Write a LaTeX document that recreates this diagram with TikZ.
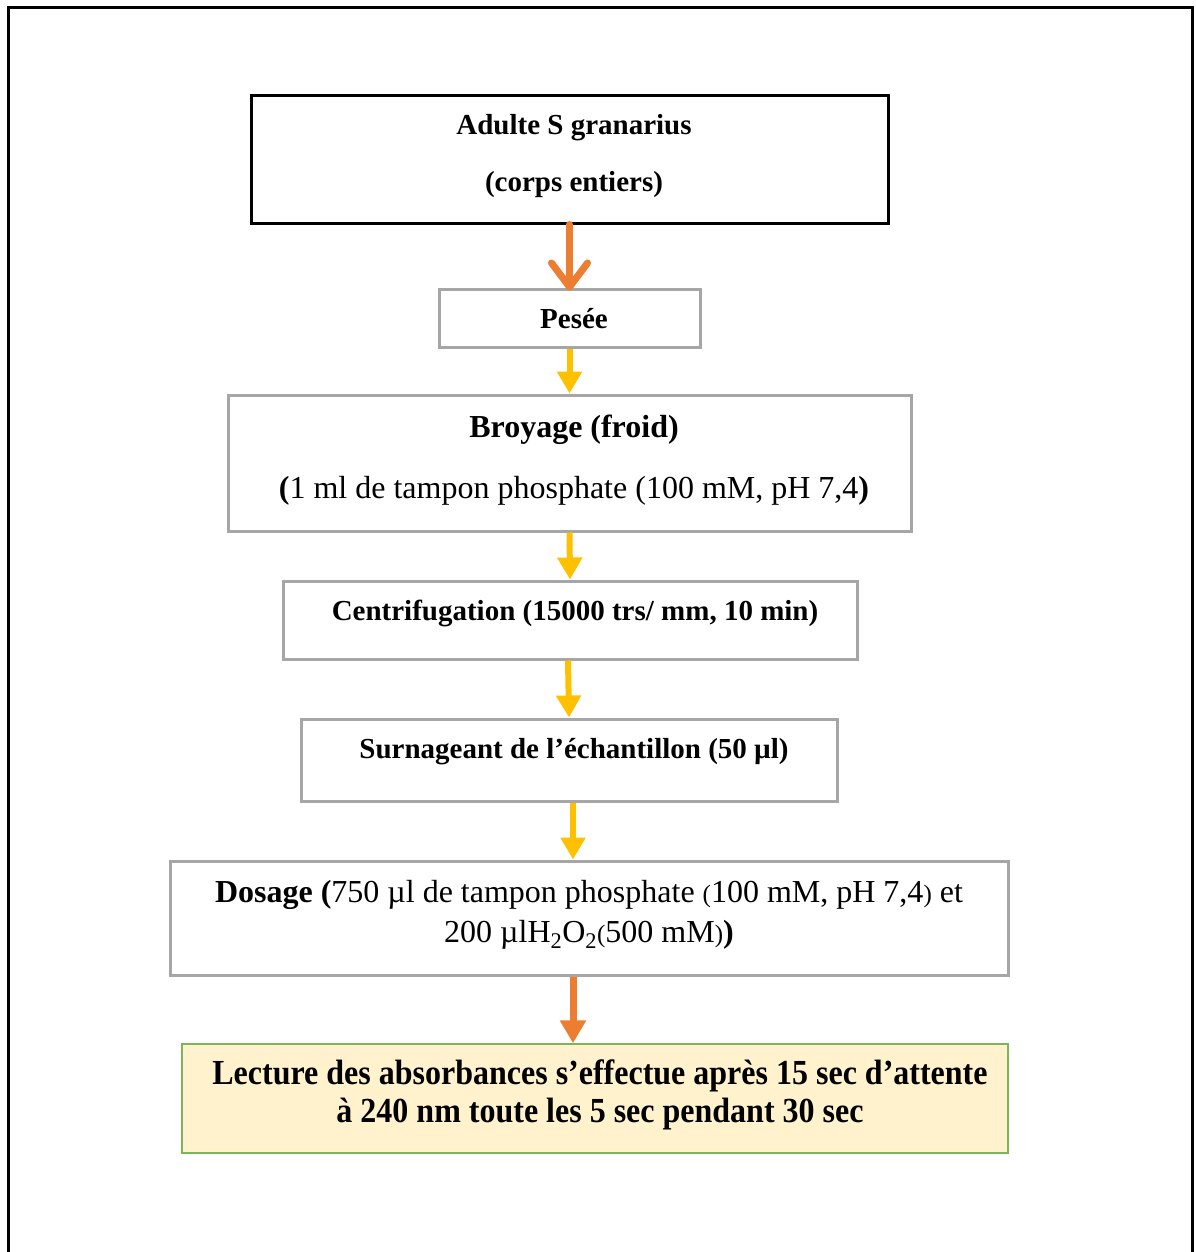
\documentclass[tikz,border=0pt]{standalone}
\usepackage{fontspec}
\setmainfont{Liberation Serif}
\usetikzlibrary{arrows.meta}
\definecolor{orarrow}{HTML}{ED7D31}
\definecolor{yelarrow}{HTML}{FFC000}
\definecolor{boxgray}{HTML}{A6A6A6}
\definecolor{lecfill}{HTML}{FFF2CC}
\definecolor{lecborder}{HTML}{7DB55A}
\tikzset{
  stepbox/.style={draw=boxgray, line width=3pt, rectangle, inner sep=0pt},
  blackbox/.style={draw=black, line width=3pt, rectangle, inner sep=0pt},
  lecbox/.style={draw=lecborder, fill=lecfill, line width=1.5pt, rectangle, inner sep=0pt},
  txtb/.style={anchor=base, inner sep=0pt, font=\fontsize{29}{34}\selectfont\bfseries},
  txtbig/.style={anchor=base, inner sep=0pt, font=\fontsize{32}{38}\selectfont},
  txtr/.style={anchor=base, inner sep=0pt, font=\fontsize{32}{38}\selectfont},
  yarrow/.style={draw=yelarrow, line width=6pt, -{Triangle[width=24pt,length=22pt]}, yelarrow},
  oarrow/.style={draw=orarrow, line width=7pt, -{Triangle[width=25pt,length=23pt]}, orarrow},
  obarb/.style={draw=orarrow, line width=7pt, line cap=round, -{Straight Barb[length=24pt,width=36pt,line width=7pt,round]}}
}
\newcommand{\smp}[1]{{\fontsize{25}{25}\selectfont #1}}
\begin{document}
\begin{tikzpicture}[x=1pt,y=-1pt]
\useasboundingbox (0,0) rectangle (1195,1252);
% outer frame
\draw[line width=3pt, black] (8,1260) -- (8,8) -- (1192,8) -- (1192,1260);
% boxes
\node[blackbox, minimum width=637pt, minimum height=127pt] (b1) at (569.5,159.5) {};
\node[stepbox, minimum width=261pt, minimum height=58pt] (b2) at (569.5,318) {};
\node[stepbox, minimum width=683pt, minimum height=136pt] (b3) at (569.5,463) {};
\node[stepbox, minimum width=574pt, minimum height=78pt] (b4) at (570,620) {};
\node[stepbox, minimum width=536pt, minimum height=82pt] (b5) at (569,760) {};
\node[stepbox, minimum width=838pt, minimum height=114pt] (b6) at (589,918) {};
\node[lecbox, minimum width=826pt, minimum height=109pt] (b7) at (595,1098.5) {};
% texts
\node[txtb] (t1a) at (574,135) {Adulte S granarius};
\node[txtb] (t1b) at (574,192) {(corps entiers)};
\node[txtb] (t2) at (574,328) {Pesée};
\node[txtbig, font=\fontsize{32}{38}\selectfont\bfseries] (t3a) at (574,437) {Broyage (froid)};
\node[txtbig] (t3b) at (574,498) {\textbf{(}1 ml de tampon phosphate (100 mM, pH 7,4\textbf{)}};
\node[txtb] (t4) at (575,620) {Centrifugation (15000 trs/ mm, 10 min)};
\node[txtb] (t5) at (574,758) {Surnageant de l’échantillon (50 µl)};
\node[txtr] (t6a) at (589,902) {\textbf{Dosage (}750 µl de tampon phosphate \smp{(}100 mM, pH 7,4\smp{)} et};
\node[txtr] (t6b) at (589,942) {200 µlH\textsubscript{2}O\textsubscript{2}\smp{(}500 mM\smp{)}\textbf{)}};
\node[anchor=base, inner sep=0pt, font=\fontsize{32}{38}\selectfont\bfseries] (t7a) at (600,1084) {\scalebox{1}[1.1]{Lecture des absorbances s’effectue après 15 sec d’attente}};
\node[anchor=base, inner sep=0pt, font=\fontsize{32}{38}\selectfont\bfseries] (t7b) at (600,1122) {\scalebox{1}[1.1]{à 240 nm toute les 5 sec pendant 30 sec}};
% arrows
\draw[obarb] (b1.south) -- ([yshift=-3pt]b2.north);
\draw[yarrow] (b2.south) -- (b3.north);
\draw[yarrow] (b3.south) -- (b4.north);
\draw[yarrow] ([xshift=-2pt]b4.south) -- (b5.north);
\draw[yarrow] (b5.south -| 573,0) -- (b6.north -| 573,0);
\draw[oarrow] (b6.south -| 573,0) -- (b7.north -| 573,0);
\end{tikzpicture}
\end{document}
